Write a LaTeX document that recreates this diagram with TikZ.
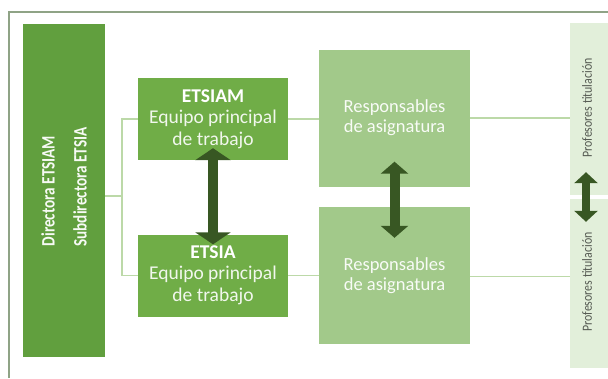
\documentclass[tikz,border=0pt]{standalone}
\usepackage{fontspec}
\setmainfont{Carlito}
\usetikzlibrary{arrows.meta}
\definecolor{dirgreen}{HTML}{619F3E}
\definecolor{boxgreen}{HTML}{70AD47}
\definecolor{respgreen}{HTML}{A2C98A}
\definecolor{profgreen}{HTML}{E2EFDA}
\definecolor{arrowgreen}{HTML}{385723}
\definecolor{linkgreen}{HTML}{BCD9A8}
\definecolor{framegray}{HTML}{8FA386}
\begin{document}
\begin{tikzpicture}[x=1pt,y=-1pt,
    dirbox/.style={fill=dirgreen,text=white,minimum width=82pt,minimum height=333pt,inner sep=0pt},
    dirlabel/.style={rotate=90,text=white!95!dirgreen,font=\fontsize{19}{22}\selectfont\bfseries},
    teambox/.style={fill=boxgreen,text=white,minimum width=150pt,minimum height=82pt,align=center,
      font=\fontsize{19.5}{22}\selectfont},
    respbox/.style={fill=respgreen,text=white!92!respgreen,minimum width=151pt,minimum height=137pt,align=center,
      font=\fontsize{18.5}{20}\selectfont},
    profbox/.style={fill=profgreen,minimum width=38pt,inner sep=0pt},
    proflabel/.style={rotate=90,font=\fontsize{14}{16}\selectfont,text=black!62!profgreen},
    link/.style={linkgreen,line width=1.2pt},
    biarrow/.style={arrowgreen,line width=10pt,{Triangle[width=35pt,length=12pt]}-{Triangle[width=35pt,length=12pt]}}]
  \useasboundingbox (0,0) rectangle (608,378);
  \draw[framegray,line width=1.5pt] (9,378) -- (9,12) -- (610,12);
  % direccion
  \node[dirbox] (dir) at (64,190.5) {};
  \node[dirlabel] (dirtext1) at (48,191) {\scalebox{0.8}[1]{Directora ETSIAM}};
  \node[dirlabel] (dirtext2) at (80,187) {\scalebox{0.8}[1]{Subdirectora ETSIA}};
  % equipos
  \node[teambox] (etsiam) at (213,119) {\textbf{ETSIAM}\\[-1pt]{\color{white!90!boxgreen}Equipo principal}\\{\color{white!90!boxgreen}de trabajo}};
  \node[teambox] (etsia) at (213,275.5) {\textbf{ETSIA}\\[-1pt]{\color{white!90!boxgreen}Equipo principal}\\{\color{white!90!boxgreen}de trabajo}};
  \node[respbox] (resp1) at (394.5,118) {Responsables\\de asignatura};
  \node[respbox] (resp2) at (394.5,275.5) {Responsables\\de asignatura};
  \node[profbox,minimum height=172pt] (prof1) at (589,109) {};
  \node[profbox,minimum height=169pt] (prof2) at (589,283.5) {};
  \node[proflabel] (proftext1) at (587,108) {\scalebox{0.85}[1]{Profesores titulación}};
  \node[proflabel] (proftext2) at (587,282) {\scalebox{0.85}[1]{Profesores titulación}};
  % conexiones
  \coordinate (fork) at (122,196);
  \draw[link] (dir.east |- fork) -- (fork);
  \draw[link] (etsiam.west) -| (fork) |- (etsia.west);
  \draw[link] (etsiam.east) -- (etsiam.east -| resp1.west);
  \draw[link] (etsia.east) -- (etsia.east -| resp2.west);
  \draw[link] (resp1.east) -- (resp1.east -| prof1.west);
  \draw[link] ([yshift=-1pt]resp2.east) -- ([yshift=-1pt]resp2.east -| prof2.west);
  \draw[biarrow] ([yshift=12pt]etsiam.south) -- ([yshift=-10pt]etsia.north);
  \draw[biarrow,{Triangle[width=27pt,length=12pt]}-{Triangle[width=27pt,length=12pt]}] ([yshift=25pt]resp1.south) -- ([yshift=-31pt]resp2.north);
  \draw[biarrow,line width=8pt,{Triangle[width=23pt,length=11pt]}-{Triangle[width=23pt,length=11pt]}] ([xshift=-3pt,yshift=23pt]prof1.south) -- ([xshift=-3pt,yshift=-23pt]prof2.north);
\end{tikzpicture}
\end{document}
